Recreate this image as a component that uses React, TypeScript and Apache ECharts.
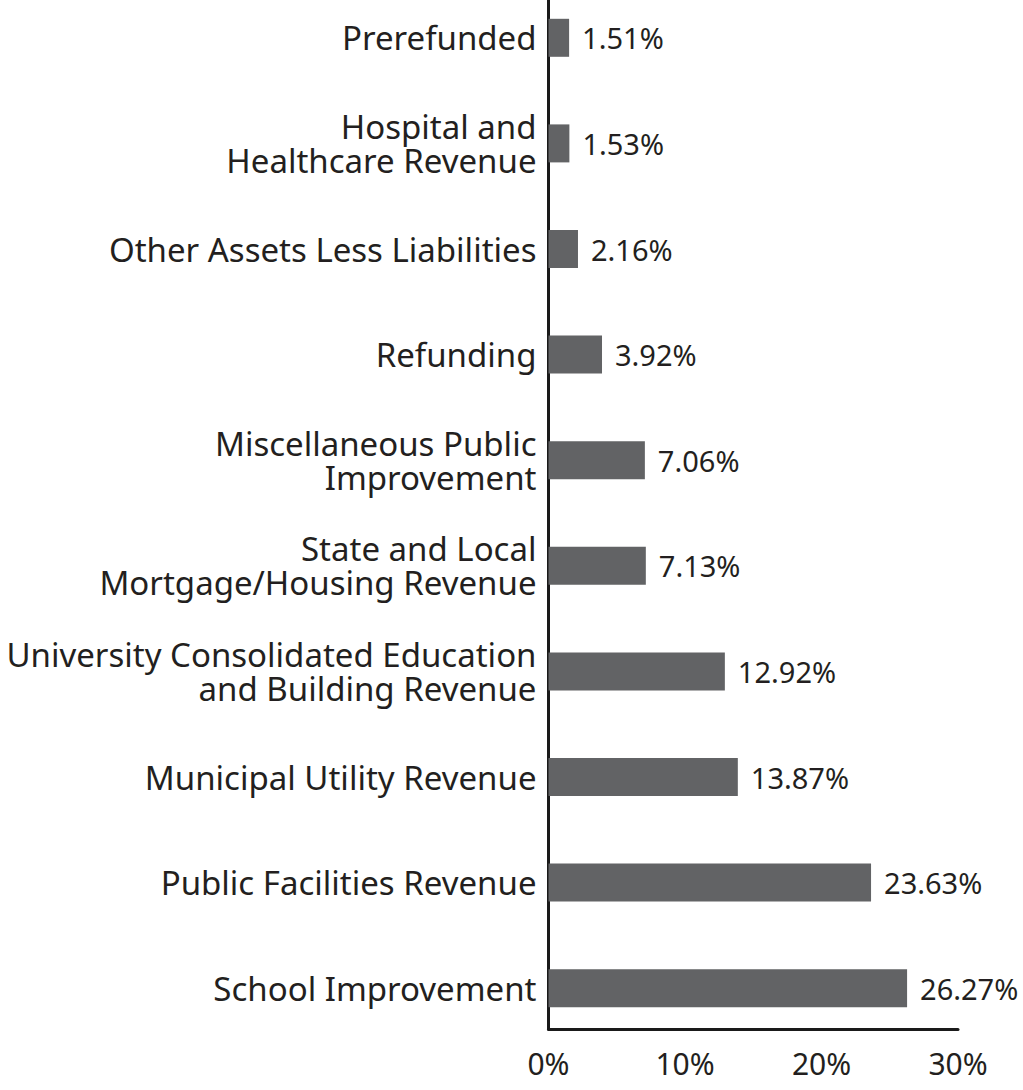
import React, { useEffect, useRef } from "react";
import * as echarts from "echarts";

const categories = [
  "Prerefunded",
  "Hospital and\nHealthcare Revenue",
  "Other Assets Less Liabilities",
  "Refunding",
  "Miscellaneous Public\nImprovement",
  "State and Local\nMortgage/Housing Revenue",
  "University Consolidated Education\nand Building Revenue",
  "Municipal Utility Revenue",
  "Public Facilities Revenue",
  "School Improvement",
];
const values = [1.51, 1.53, 2.16, 3.92, 7.06, 7.13, 12.92, 13.87, 23.63, 26.27];
const axisMin = 0;
const axisMax = 30;
const axisStep = 10;

const FONT = "'Noto Sans', 'Open Sans', sans-serif";
const TEXT = "#231f20";

export default function App() {
  const ref = useRef<HTMLDivElement>(null);
  useEffect(() => {
    if (!ref.current) return;
    const chart = echarts.init(ref.current, undefined, { renderer: "svg" });
    chart.setOption({
      animation: false,
      grid: [
        {
          left: 548.5,
          right: 65,
          top: -15,
          bottom: 49,
          containLabel: false,
          outerBoundsMode: "none",
        },
        {
          left: 548.5,
          right: 65,
          top: 0,
          bottom: 61,
          containLabel: false,
          outerBoundsMode: "none",
        },
      ],
      xAxis: [
        {
          gridIndex: 0,
          type: "value",
          min: axisMin,
          max: axisMax,
          interval: axisStep,
          show: false,
        },
        {
          gridIndex: 1,
          type: "value",
          min: axisMin,
          max: axisMax,
          interval: axisStep,
          axisLine: { show: true, lineStyle: { color: "#1a1a1a", width: 3 } },
          axisTick: { show: false },
          splitLine: { show: false },
          axisLabel: {
            formatter: "{value}%",
            color: TEXT,
            fontFamily: FONT,
            fontSize: 30,
            margin: 19,
          },
        },
      ],
      yAxis: [
        {
          gridIndex: 0,
          type: "category",
          inverse: true,
          data: categories,
          axisLine: { show: false },
          axisTick: { show: false },
          axisLabel: {
            color: TEXT,
            fontFamily: FONT,
            fontSize: 33,
            lineHeight: 34,
            margin: 12,
            align: "right",
          },
        },
        {
          gridIndex: 1,
          type: "value",
          min: 0,
          max: 1,
          axisLine: { show: true, lineStyle: { color: "#1a1a1a", width: 3 } },
          axisTick: { show: false },
          axisLabel: { show: false },
          splitLine: { show: false },
        },
      ],
      series: [
        {
          type: "bar",
          xAxisIndex: 0,
          yAxisIndex: 0,
          data: values,
          barWidth: 38,
          itemStyle: { color: "#626365" },
          label: {
            show: true,
            position: "right",
            distance: 13,
            formatter: (p: any) => p.value.toFixed(2) + "%",
            color: TEXT,
            fontFamily: FONT,
            fontSize: 29,
          },
          z: 1,
        },
      ],
    });
    return () => chart.dispose();
  }, []);
  return (
    <div
      ref={ref}
      style={{ position: "absolute", left: 0, top: 0, width: 1023, height: 1090 }}
    />
  );
}
